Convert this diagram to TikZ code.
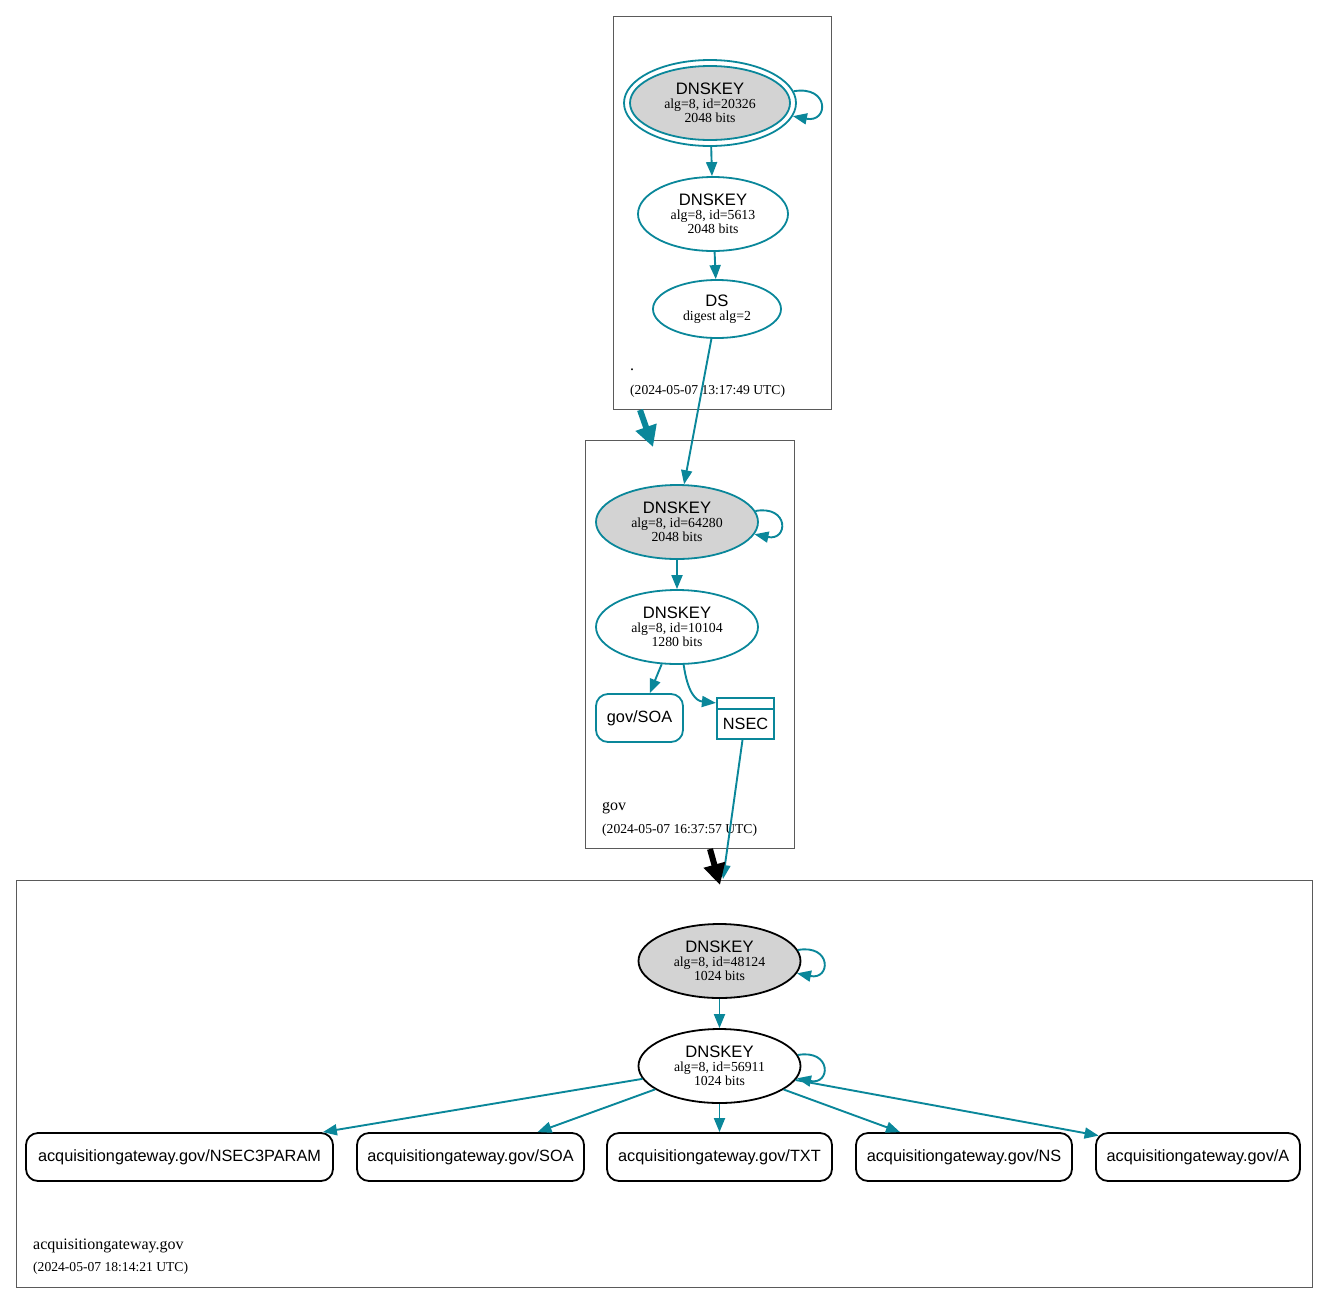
\documentclass[tikz,border=0pt]{standalone}
\usepackage{fontspec}
\setmainfont{Liberation Serif}
\newfontfamily\hv{Liberation Sans}
\usetikzlibrary{arrows.meta,shapes.geometric,calc}
\definecolor{dteal}{HTML}{0A879A}
\definecolor{kgray}{HTML}{D3D3D3}
\definecolor{clgray}{HTML}{5A5A5A}
\newcommand\dk[2]{{\hv\fontsize{16.6}{13.8}\selectfont DNSKEY}\\alg=8, id=#1\\#2 bits}
\begin{document}
\begin{tikzpicture}[x=1pt,y=-1pt,
  key/.style={ellipse, draw=dteal, line width=1.8pt, inner sep=0pt, align=center,
    font=\fontsize{13.8}{13.8}\selectfont, minimum width=162pt, minimum height=74pt},
  ksk/.style={key, fill=kgray},
  cluster/.style={draw=clgray, line width=0.8pt, inner sep=0pt, anchor=north west},
  rrec/.style={draw=black, line width=1.8pt, rounded corners=12pt,
    font=\hv\fontsize{16.3}{16}\selectfont, inner sep=0pt, minimum height=48pt},
  edge/.style={draw=dteal, line width=1.9pt, -{Triangle[length=14pt,width=11pt]}},
  bigedge/.style={line width=6pt, -{Triangle[length=21pt,width=21pt]}},
  zname/.style={anchor=base west, inner sep=0pt, font=\fontsize{16}{16}\selectfont},
  zdate/.style={anchor=base west, inner sep=0pt, font=\fontsize{13.6}{13.6}\selectfont},
]
\useasboundingbox (0,0) rectangle (1328,1304);

% clusters
\node[cluster, minimum width=218pt, minimum height=393pt] (zroot) at (613,16) {};
\node[cluster, minimum width=209pt, minimum height=408pt] (zgov) at (585,440) {};
\node[cluster, minimum width=1296pt, minimum height=407pt] (zacq) at (16,880) {};

% root zone
\node[ellipse, draw=dteal, line width=1.8pt, inner sep=0pt, minimum width=172pt, minimum height=86pt] (k1o) at (710,103) {};
\node[ksk, minimum width=160pt, minimum height=74pt] (k1) at (710,103) {\dk{20326}{2048}};
\node[key, minimum width=150pt, minimum height=74pt] (k2) at (713,214) {\dk{5613}{2048}};
\node[key, minimum width=128pt, minimum height=58pt] (ds) at (717,309) {{\hv\fontsize{16.6}{14.8}\selectfont DS}\\digest alg=2};
\node[zname] (n1) at (630,370) {.};
\node[zdate] (d1) at (630,394) {(2024-05-07 13:17:49 UTC)};

% gov zone
\node[ksk] (k3) at (677,522) {\dk{64280}{2048}};
\node[key] (k4) at (677,627) {\dk{10104}{1280}};
\node[rrec, draw=dteal, minimum width=87pt] (gsoa) at (639.5,718) {gov/SOA};
\node[draw=dteal, line width=2.2pt, inner sep=0pt, minimum width=57pt, minimum height=41pt] (nsec) at (745.5,718.5) {};
\draw[dteal, line width=2.2pt] ($(nsec.north west)+(0,12)$) -- ($(nsec.north east)+(0,12)$);
\node[inner sep=0pt, font=\hv\fontsize{16.3}{16}\selectfont] (nsect) at ($(nsec.center)+(0,5)$) {NSEC};
\node[zname] (n2) at (602,810) {gov};
\node[zdate] (d2) at (602,833.5) {(2024-05-07 16:37:57 UTC)};

% acquisitiongateway.gov zone
\node[ksk, draw=black] (k5) at (719.5,961) {\dk{48124}{1024}};
\node[key, draw=black] (k6) at (719.5,1066) {\dk{56911}{1024}};
\node[rrec, minimum width=307pt] (r1) at (179.5,1157) {acquisitiongateway.gov/NSEC3PARAM};
\node[rrec, minimum width=227pt] (r2) at (470.5,1157) {acquisitiongateway.gov/SOA};
\node[rrec, minimum width=225pt] (r3) at (719.5,1157) {acquisitiongateway.gov/TXT};
\node[rrec, minimum width=216pt] (r4) at (964,1157) {acquisitiongateway.gov/NS};
\node[rrec, minimum width=204pt] (r5) at (1198,1157) {acquisitiongateway.gov/A};
\node[zname] (n3) at (33,1249) {acquisitiongateway.gov};
\node[zdate] (d3) at (33,1271.5) {(2024-05-07 18:14:21 UTC)};

% edges root
\draw[edge] (k1o) -- (k2);
\draw[edge] (k2) -- (ds);
\draw[edge] (k1o.8) .. controls +(36,-6) and +(36,7) .. (k1o.-9);
% delegation root -> gov
\coordinate (a1) at (640,410);
\coordinate (a2) at (653,447);
\draw[bigedge, draw=dteal, fill=dteal] (a1) -- (a2);
\draw[edge] (ds) -- (k3);
% gov
\draw[edge] (k3.8) .. controls +(34,-6) and +(34,7) .. (k3.-9);
\draw[edge] (k3) -- (k4);
\draw[edge] (k4) -- (gsoa);
\draw[edge] (k4.-80) .. controls +(4,28) and +(-20,-2) .. ($(nsec.north west)+(0,6)$);
\coordinate (a3) at (723,879);
\draw[edge] (nsec) -- (a3);
% delegation gov -> acq
\coordinate (a4) at (710,849);
\coordinate (a5) at (720,885);
\draw[bigedge, draw=black, fill=black] (a4) -- (a5);
% acq
\draw[edge] (k5.8) .. controls +(34,-6) and +(34,7) .. (k5.-9);
\draw[edge] (k5) -- (k6);
\draw[edge] (k6.8) .. controls +(34,-6) and +(34,7) .. (k6.-9);
\draw[edge] (k6) -- ($(r1.north east)+(-11,0)$);
\draw[edge] (k6) -- ($(r2.north)+(67,0)$);
\draw[edge] (k6) -- (r3);
\draw[edge] (k6) -- ($(r4.north)+(-64,0)$);
\draw[edge] (k6) -- ($(r5.north west)+(3.5,3.5)$);
\end{tikzpicture}
\end{document}
